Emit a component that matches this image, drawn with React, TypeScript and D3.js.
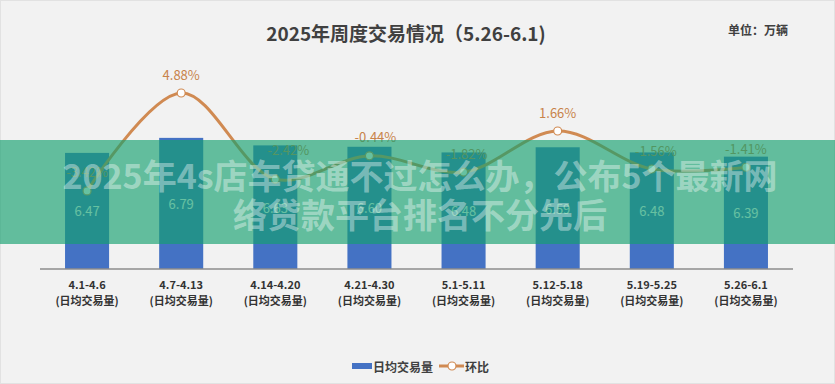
import React from "react";
import * as d3 from "d3";

const categories = ["4.1-4.6", "4.7-4.13", "4.14-4.20", "4.21-4.30", "5.1-5.11", "5.12-5.18", "5.19-5.25", "5.26-6.1"];
const volumes = [6.47, 6.79, 6.63, 6.6, 6.48, 6.59, 6.48, 6.39];
const changes = [-3.42, 4.88, -2.42, -0.44, -1.82, 1.66, -1.56, -1.41];
const labelShift = [0, 0, 13, 6, 3, 0, 4, 0];
const subLabel = "(日均交易量)";
const title = "2025年周度交易情况（5.26-6.1)";
const unit = "单位：万辆";
const legendBar = "日均交易量";
const legendLine = "环比";
const bannerLines = ["2025年4s店车贷通不过怎么办，公布5个最新网", "络贷款平台排名不分先后"];

const W = 835;
const H = 384;
const FONT = "'Noto Sans CJK SC', 'Noto Sans', sans-serif";
const BLUE = "#4472c4";
const ORANGE = "#d08a52";

export default function App() {
  const x = d3.scaleBand<string>().domain(categories).range([40, 793]).paddingInner(0.532).paddingOuter(0.266);
  const y = d3.scaleLinear().domain([4, 8]).range([269, 81]);
  const y2 = d3.scaleLinear().domain([-4, 6]).range([197.8, 79.8]);
  const cx = (c: string) => (x(c) as number) + x.bandwidth() / 2;
  const pts: [number, number][] = categories.map((c, i) => [cx(c), y2(changes[i])]);
  const line = d3.line().curve(d3.curveCatmullRom.alpha(0.5))(pts) || "";

  return (
    <div style={{ position: "fixed", left: 0, top: 0 }}>
      <svg width={W} height={H} style={{ display: "block", fontFamily: FONT }}>
        <rect x={0.5} y={0.5} width={W - 1} height={H - 1} fill="#f2f2f2" stroke="#e2e2e2" />
        <text x={406} y={32} textAnchor="middle" dominantBaseline="central" fontSize={19} fontWeight="bold" fill="#404040">{title}</text>
        <text x={758} y={29} textAnchor="middle" dominantBaseline="central" fontSize={12} fontWeight="bold" fill="#404040">{unit}</text>

        {categories.map((c, i) => (
          <rect key={"b" + i} x={x(c)} y={y(volumes[i])} width={x.bandwidth()} height={y(4) - y(volumes[i])} fill={BLUE} />
        ))}
        {categories.map((c, i) => (
          <text key={"v" + i} x={cx(c)} y={(y(volumes[i]) + y(4)) / 2} textAnchor="middle" dominantBaseline="central" fontSize={13} fill="#ffffff">{volumes[i].toFixed(2)}</text>
        ))}
        <line x1={40} x2={793} y1={269} y2={269} stroke="#8c8c8c" strokeWidth={1.5} />
        {categories.map((c, i) => (
          <g key={"l" + i}>
            <text x={cx(c)} y={284} textAnchor="middle" dominantBaseline="central" fontSize={11} fontWeight="bold" fill="#333">{c}</text>
            <text x={cx(c)} y={300} textAnchor="middle" dominantBaseline="central" fontSize={11} fontWeight="bold" fill="#333">{subLabel}</text>
          </g>
        ))}

        <path d={line} fill="none" stroke={ORANGE} strokeWidth={3} />
        {pts.map((p, i) => (
          <circle key={"c" + i} cx={p[0]} cy={p[1]} r={4} fill="#fff" stroke={ORANGE} strokeWidth={1.2} />
        ))}
        {pts.map((p, i) => (
          <text key={"t" + i} x={p[0] + labelShift[i]} y={p[1] - (i === 2 ? 30 : 19)} textAnchor="middle" dominantBaseline="central" fontSize={13} fill="#c8834a">{changes[i].toFixed(2) + "%"}</text>
        ))}

        <rect x={352} y={363} width={20} height={6} fill={BLUE} />
        <text x={373} y={366} dominantBaseline="central" fontSize={12} fontWeight="bold" fill="#404040">{legendBar}</text>
        <line x1={439} x2={464} y1={366} y2={366} stroke={ORANGE} strokeWidth={3} />
        <circle cx={452} cy={366} r={4} fill="#fff" stroke={ORANGE} strokeWidth={1.2} />
        <text x={465} y={366} dominantBaseline="central" fontSize={12} fontWeight="bold" fill="#404040">{legendLine}</text>

        <rect x={0} y={140} width={W} height={104} fill="rgba(20,160,110,0.65)" />
        {bannerLines.map((t, i) => (
          <text key={"bn" + i} x={420} y={174 + i * 39} textAnchor="middle" dominantBaseline="central" fontSize={34} fontWeight="bold" fill="rgba(255,255,255,0.4)">{t}</text>
        ))}
      </svg>
    </div>
  );
}
